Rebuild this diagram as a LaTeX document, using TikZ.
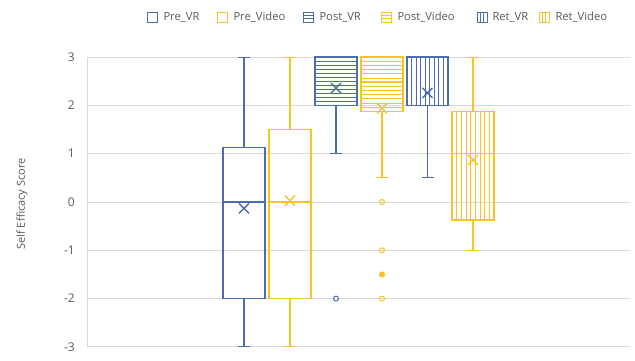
\documentclass[tikz,border=0pt]{standalone}
\usepackage{fontspec}
\setmainfont{Open Sans}
\definecolor{vrblue}{HTML}{4D6CAF}
\definecolor{vidgold}{HTML}{F7C325}
\definecolor{gridgray}{HTML}{D9D9D9}
\definecolor{labelgray}{HTML}{595959}

\tikzset{
  grid line/.style={draw=gridgray, line width=0.9pt},
  boxline/.style={line width=1.3pt},
  whisk/.style={line width=1.1pt},
  hatch/.style={line width=0.9pt},
  meanmark/.style={line width=1.4pt},
  tick label/.style={font=\fontsize{12}{14}\selectfont, text=labelgray, anchor=east, inner sep=0pt},
  legend text/.style={font=\fontsize{11.2}{14}\selectfont, text=labelgray, anchor=west, inner sep=0pt},
  axis title/.style={font=\fontsize{11}{13}\selectfont, text=labelgray, rotate=90, inner sep=0pt},
  outlier/.style={circle, draw, line width=1pt, inner sep=0pt, minimum size=5pt},
}

% one box-and-whisker: colour, left, right, whisker low, q1, median, q3, whisker high, mean
\newcommand\bxplot[9]{%
  \pgfmathsetmacro\xc{(#2+#3)/2}%
  \draw[#1, whisk] (\xc,#4) -- (\xc,#5);
  \draw[#1, whisk] (\xc,#7) -- (\xc,#8);
  \draw[#1, whisk] (\xc-6,#4) -- (\xc+6,#4);
  \draw[#1, whisk] (\xc-6,#8) -- (\xc+6,#8);
  \draw[#1, boxline] (#2,#5) rectangle (#3,#7);
  \draw[#1, boxline] (#2,#6) -- (#3,#6);
  \draw[#1, meanmark] (\xc,#9) ++(-5pt,-5pt) -- ++(10pt,10pt) ++(-10pt,0pt) -- ++(10pt,-10pt);
}
% horizontal hatching: colour, left, right, bottom, top, count
\newcommand\hhatch[6]{%
  \foreach \k in {1,...,#6}{
    \draw[#1, hatch] (#2,{#4+\k*(#5-#4)/(#6+1)}) -- (#3,{#4+\k*(#5-#4)/(#6+1)});
  }
}
% vertical hatching: colour, left, right, bottom, top, count
\newcommand\vhatch[6]{%
  \foreach \k in {1,...,#6}{
    \draw[#1, hatch] ({#2+\k*(#3-#2)/(#6+1)},#4) -- ({#2+\k*(#3-#2)/(#6+1)},#5);
  }
}

\begin{document}
\begin{tikzpicture}[x=1pt,y=-1pt]
\useasboundingbox[fill=white] (0,0) rectangle (635,360);

% legend
\begin{scope}[line width=1pt]
  \draw[vrblue] (147,12) rectangle (157,22);
  \node[legend text] (lg1) at (163,17) {Pre\_VR};
  \draw[vidgold] (217,12) rectangle (227,22);
  \node[legend text] (lg2) at (233,17) {Pre\_Video};
  \draw[vrblue] (303,12) rectangle (313,22);
  \draw[vrblue] (303,15.3) -- (313,15.3) (303,18.7) -- (313,18.7);
  \node[legend text] (lg3) at (319,17) {Post\_VR};
  \draw[vidgold] (381,12) rectangle (391,22);
  \draw[vidgold] (381,15.3) -- (391,15.3) (381,18.7) -- (391,18.7);
  \node[legend text] (lg4) at (397,17) {Post\_Video};
  \draw[vrblue] (477,12) rectangle (487,22);
  \draw[vrblue] (480.3,12) -- (480.3,22) (483.7,12) -- (483.7,22);
  \node[legend text] (lg5) at (492,17) {Ret\_VR};
  \draw[vidgold] (539,12) rectangle (549,22);
  \draw[vidgold] (542.3,12) -- (542.3,22) (545.7,12) -- (545.7,22);
  \node[legend text] (lg6) at (555,17) {Ret\_Video};
\end{scope}

% axis title
\node[axis title] (ytitle) at (22,204) {Self Efficacy Score};

% plotting area: value units vertically, 0 at y = 202
\begin{scope}[shift={(0,202)}, y=48.3pt]
  \foreach \v in {-3,...,3}{
    \draw[grid line] (87,\v) -- (630,\v);
    \node[tick label] (t\v) at (75,\v) {\v};
  }
  \draw[grid line] (87,-3) -- (87,3);

  % Pre_VR and Pre_Video
  \bxplot{vrblue}{223}{265}{-3}{-2}{0}{1.13}{3}{-0.13}
  \bxplot{vidgold}{269}{311}{-3}{-2}{0}{1.5}{3}{0.03}

  % Post_VR
  \hhatch{vrblue}{315}{357}{2}{3}{11}
  \bxplot{vrblue}{315}{357}{1}{2}{2.5}{3}{3}{2.36}
  \node[outlier, vrblue] (o1) at (336,-2) {};

  % Post_Video
  \hhatch{vidgold}{361}{403}{1.875}{3}{12}
  \bxplot{vidgold}{361}{403}{0.5}{1.875}{2.5}{3}{3}{1.94}
  \node[outlier, vidgold] (o2) at (382,0) {};
  \node[outlier, vidgold] (o3) at (382,-1) {};
  \node[outlier, vidgold, fill=vidgold] (o4) at (382,-1.5) {};
  \node[outlier, vidgold] (o5) at (382,-2) {};

  % Ret_VR
  \vhatch{vrblue}{407}{448}{2}{3}{8}
  \bxplot{vrblue}{407}{448}{0.5}{2}{2}{3}{3}{2.26}

  % Ret_Video
  \vhatch{vidgold}{452}{494}{-0.375}{1.875}{8}
  \bxplot{vidgold}{452}{494}{-1}{-0.375}{1}{1.875}{3}{0.87}
\end{scope}
\end{tikzpicture}
\end{document}
